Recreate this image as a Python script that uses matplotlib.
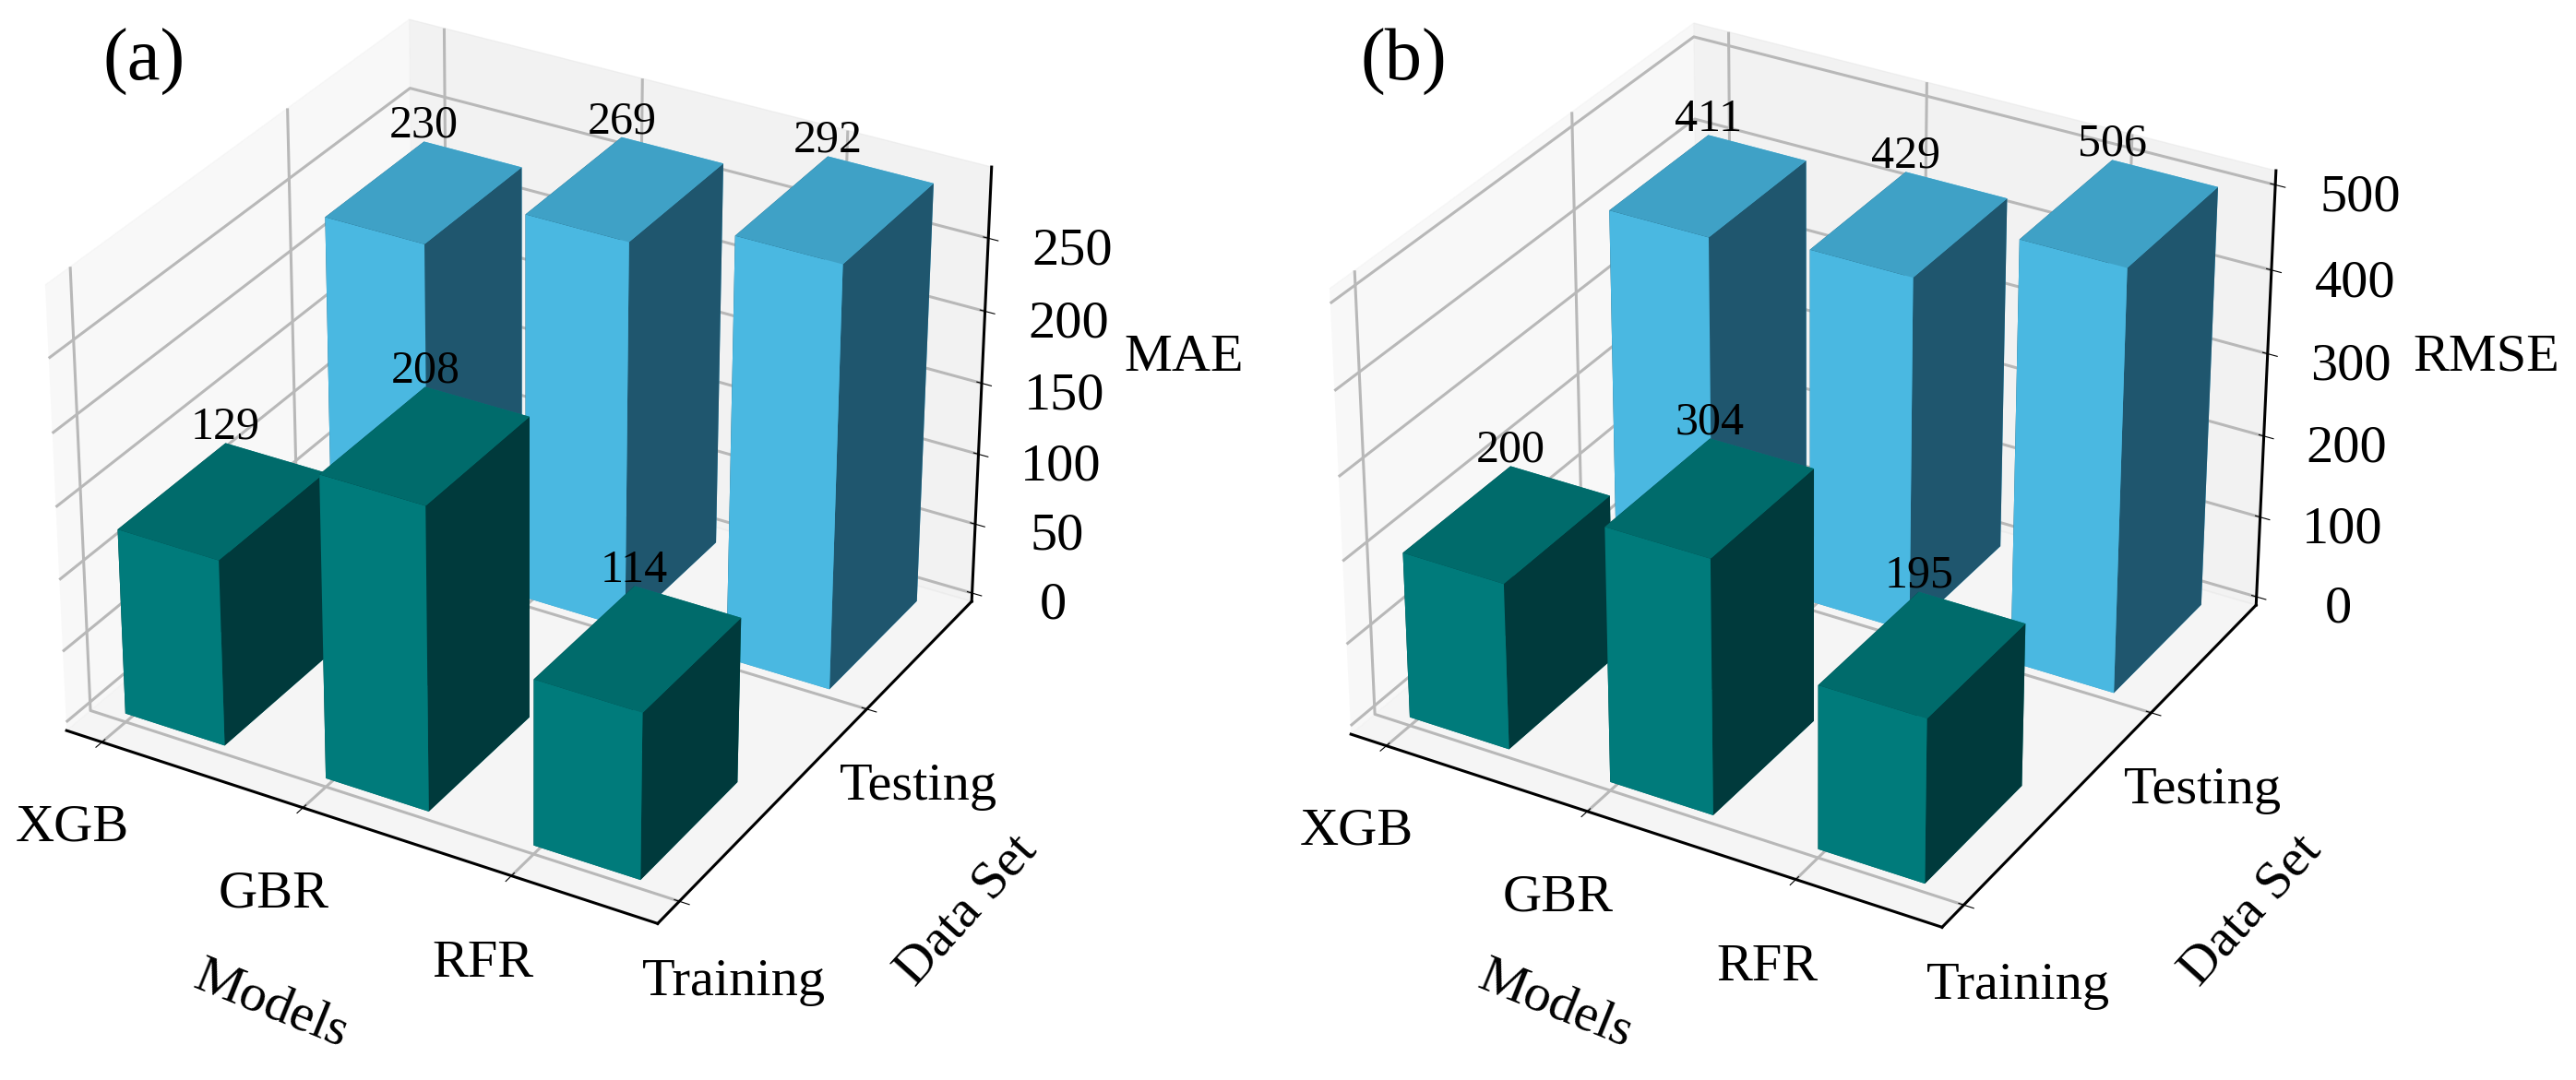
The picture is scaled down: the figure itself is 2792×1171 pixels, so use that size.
import matplotlib
matplotlib.use("Agg")
import matplotlib.pyplot as plt

plt.rcParams['font.family'] = ['Liberation Serif', 'DejaVu Serif']

models = ['XGB', 'GBR', 'RFR']
datasets = ['Training', 'Testing']
mae_train = [129, 208, 114]
mae_test = [230, 269, 292]
rmse_train = [200, 304, 195]
rmse_test = [411, 429, 506]
mae_ticks = [0, 50, 100, 150, 200, 250]
rmse_ticks = [0, 100, 200, 300, 400, 500]

# faces: bottom, top, front, back, left, right
train_faces = ['#006b6b', '#006b6b', '#007b7b', '#007b7b', '#003a3c', '#003a3c']
test_faces = ['#3fa1c6', '#3fa1c6', '#4ab8e1', '#4ab8e1', '#1f566e', '#1f566e']


def draw(rect, train, test, ticks, zlabel, zlim, panel, panel_x, dx):
    ax = fig.add_axes(rect, projection='3d')
    ax.set_facecolor('none')
    ax.view_init(elev=30, azim=-60)
    w = 0.5
    lift = 0.01 * zlim[1]
    for i in range(3):
        ax.bar3d(i, 1, 0, w, w, test[i], color=test_faces, shade=False)
    for i in range(3):
        ax.bar3d(i, 0, 0, w, w, train[i], color=train_faces, shade=False)
    for i in range(3):
        ax.text(i, w, train[i] + lift, str(train[i]), fontsize=36, ha='center', va='baseline', zorder=20)
        ax.text(i, 1 + w, test[i] + lift, str(test[i]), fontsize=36, ha='center', va='baseline', zorder=20)
    ax.set_xlim(-0.18, 2.68)
    ax.set_ylim(-0.109, 1.609)
    ax.set_zlim(*zlim)
    ax.set_xticks(range(3))
    ax.set_xticklabels(models, fontsize=42)
    ax.set_yticks(range(2))
    ax.set_yticklabels(datasets, fontsize=42)
    ax.set_zticks(ticks)
    ax.set_zticklabels([str(t) for t in ticks], fontsize=42)
    ax.tick_params(axis='x', pad=27, width=2)
    ax.tick_params(axis='y', pad=30, width=2)
    ax.tick_params(axis='z', pad=32, width=2)
    for axis in (ax.xaxis, ax.yaxis, ax.zaxis):
        axis.line.set_linewidth(2.2)
        axis._axinfo['grid']['linewidth'] = 2.2
        axis._axinfo['grid']['color'] = '#b8b8b8'
    # axis labels sit at measured spots, pixels from the top left
    fig.text((294 + dx) / 2792, 1 - 1089 / 1171, 'Models', fontsize=42, rotation=-22, ha='center', va='center')
    fig.text((1048 + dx) / 2792, 1 - 987 / 1171, 'Data Set', fontsize=42, rotation=48, ha='center', va='center')
    fig.text((1283 + (1412 if zlabel == 'RMSE' else 0)) / 2792, 1 - 388 / 1171, zlabel, fontsize=42, ha='center', va='center')
    fig.text(panel_x, 0.9257, panel, fontsize=58, ha='left', va='baseline')


fig = plt.figure(figsize=(27.92, 11.71), dpi=100)
draw([-0.036, 0.0834, 0.4705, 0.974], mae_train, mae_test, mae_ticks, 'MAE', (-6.08, 298.08), '(a)', 0.040, 0)
draw([0.4626, 0.08, 0.4705, 0.974], rmse_train, rmse_test, rmse_ticks, 'RMSE', (-10.5, 516.5), '(b)', 0.528, 1392)
fig.savefig('out.png', dpi=100)
